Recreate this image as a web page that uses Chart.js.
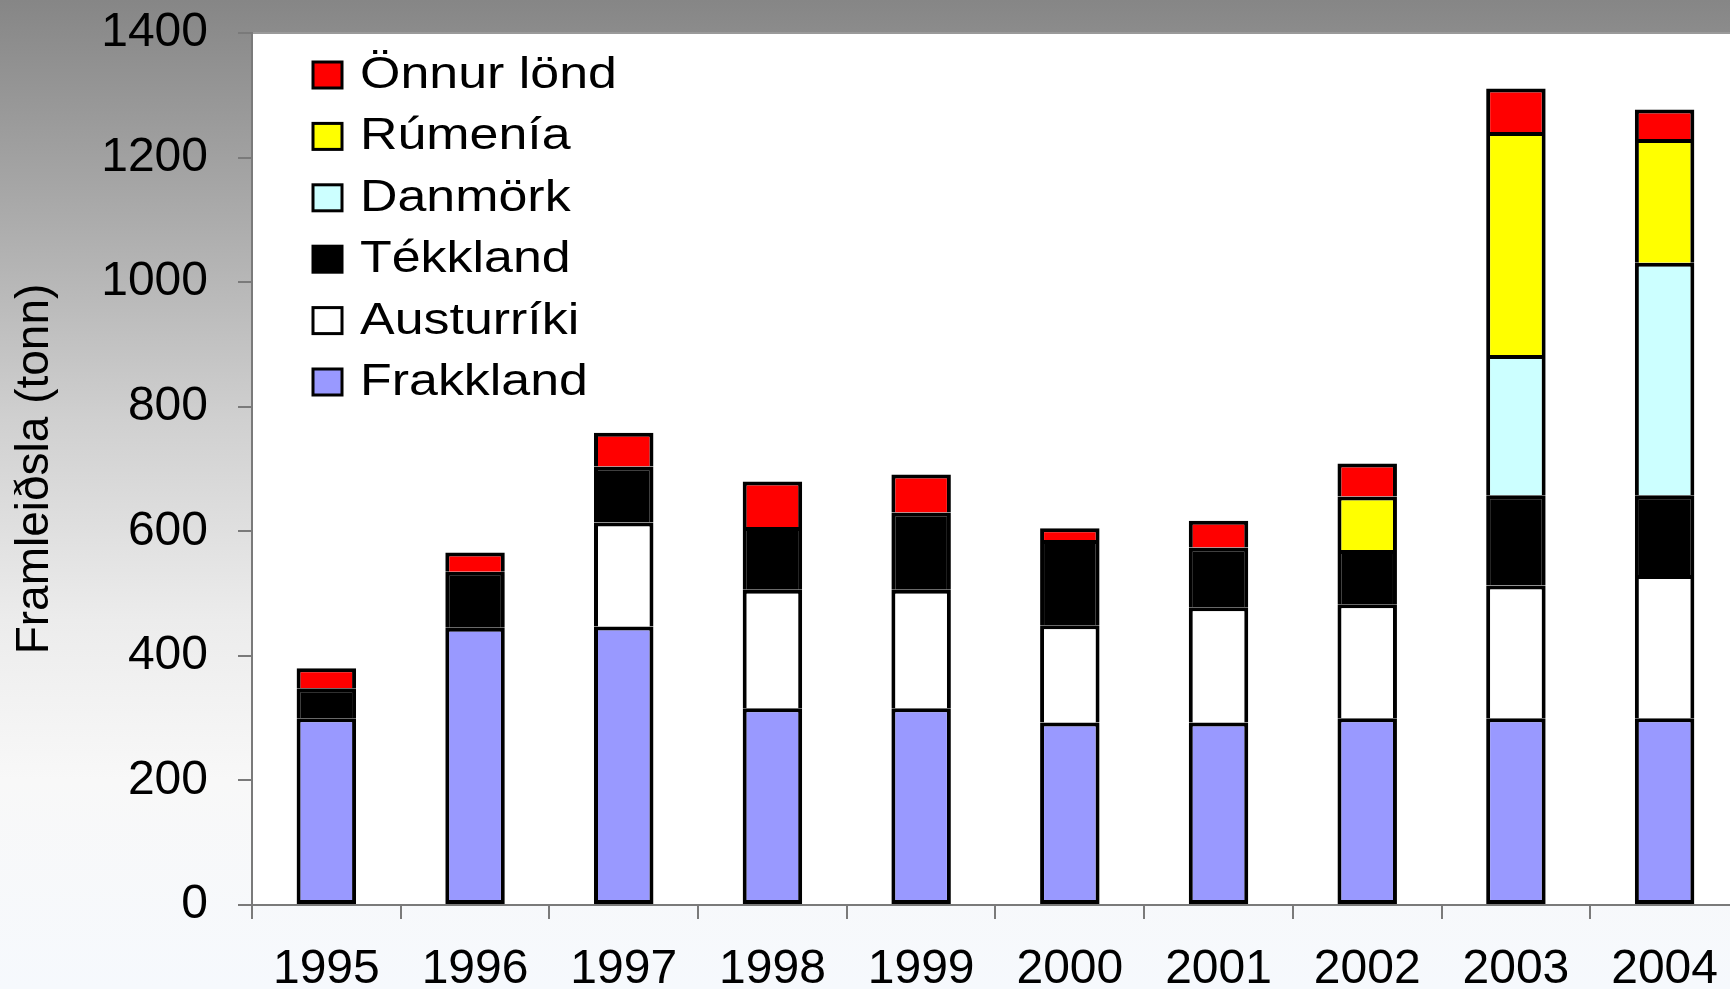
<!DOCTYPE html>
<html>
<head>
<meta charset="utf-8">
<title>Framleiðsla</title>
<script src="https://cdn.jsdelivr.net/npm/chart.js@4.4.1/dist/chart.umd.min.js"></script>
<style>
    html, body {
        margin: 0;
        padding: 0;
        width: 1730px;
        height: 989px;
        overflow: hidden;
    }
    body {
        background: linear-gradient(to bottom, #868686 0px, #a8a8a8 200px, #d0d0d0 420px, #ececec 620px, #f8f8f8 780px, #f6f9fd 989px);
    }
    #wrap {
        position: absolute;
        left: 0;
        top: 0;
        width: 1740px;
        height: 989px;
    }
</style>
</head>
<body>
<div id="wrap"><canvas id="prodChart"></canvas></div>
<script>
// years on the x axis
const years = ['1995', '1996', '1997', '1998', '1999', '2000', '2001', '2002', '2003', '2004'];

// production per country, tonnes (null = nothing that year)
const frakkland  = [300, 445, 447, 316, 316, 293, 293, 300, 300, 300];
const austurriki = [null, null, 167, 190, 190, 156, 185, 183, 213, 230];
const tekkland   = [48, 90, 90, 101, 124, 137, 96, 87, 145, 128];
const danmork    = [null, null, null, null, null, null, null, null, 225, 373];
const rumenia    = [null, null, null, null, null, null, null, 86, 358, 199];
const onnurLond  = [32, 31, 54, 73, 61, 19, 43, 53, 70, 47];

const yTicks = [0, 200, 400, 600, 800, 1000, 1200, 1400];

Chart.defaults.font.family = "'Liberation Sans', Arial, sans-serif";
Chart.defaults.color = '#000';

// white plot area over the grey page background
const plotBackground = {
    id: 'plotBackground',
    beforeDraw(chart) {
        const area = chart.chartArea;
        const ctx = chart.ctx;
        ctx.save();
        ctx.fillStyle = '#ffffff';
        ctx.fillRect(area.left, area.top, area.right - area.left, area.bottom - area.top);
        ctx.strokeStyle = '#9a9a9a';
        ctx.lineWidth = 2;
        ctx.beginPath();
        ctx.moveTo(area.left, area.top);
        ctx.lineTo(area.right, area.top);
        ctx.stroke();
        ctx.restore();
    }
};

// legend sits inside the plot, top series first
const insideLegend = {
    id: 'insideLegend',
    afterDraw(chart) {
        const ctx = chart.ctx;
        const items = chart.data.datasets.slice().reverse();
        ctx.save();
        ctx.font = "44px 'Liberation Sans', Arial, sans-serif";
        ctx.textBaseline = 'alphabetic';
        items.forEach(function(ds, i) {
            const cy = 75 + i * 61.4;
            ctx.fillStyle = ds.backgroundColor;
            ctx.fillRect(313, cy - 13, 29, 26);
            ctx.strokeStyle = '#000';
            ctx.lineWidth = 3;
            ctx.strokeRect(313, cy - 13, 29, 26);
            ctx.save();
            ctx.translate(360, cy + 13);
            ctx.scale(1.18, 1); // text is stretched wide in the original
            ctx.fillStyle = '#000';
            ctx.fillText(ds.label, 0, 0);
            ctx.restore();
        });
        ctx.restore();
    }
};

function barSet(label, data, color) {
    return {
        label: label,
        data: data,
        backgroundColor: color,
        borderColor: '#000',
        borderWidth: 4,
        barPercentage: 0.4,
        categoryPercentage: 1.0
    };
}

const datasets = [
    barSet('Frakkland', frakkland, '#9999ff'),
    barSet('Austurríki', austurriki, '#ffffff'),
    barSet('Tékkland', tekkland, '#000000'),
    barSet('Danmörk', danmork, '#ccffff'),
    barSet('Rúmenía', rumenia, '#ffff00'),
    barSet('Önnur lönd', onnurLond, '#ff0000')
];
datasets[0].borderSkipped = false;

const ctx = document.getElementById('prodChart').getContext('2d');
const prodChart = new Chart(ctx, {
    type: 'bar',
    data: {
        labels: years,
        datasets: datasets
    },
    options: {
        responsive: true,
        maintainAspectRatio: false,
        animation: false,
        layout: {
            padding: { top: 33, right: 0, bottom: 0, left: 0 }
        },
        plugins: {
            legend: { display: false },
            tooltip: { enabled: false }
        },
        scales: {
            x: {
                stacked: true,
                grid: {
                    drawOnChartArea: false,
                    tickLength: 14,
                    color: '#7a7a7a',
                    lineWidth: 2
                },
                border: { color: '#7a7a7a', width: 2 },
                ticks: {
                    font: { size: 48 },
                    padding: 22,
                    maxRotation: 0,
                    autoSkip: false
                },
                afterFit: function(scale) {
                    scale.height = 84;
                }
            },
            y: {
                stacked: true,
                min: 0,
                max: 1400,
                afterBuildTicks: function(scale) {
                    scale.ticks = yTicks.map(v => ({ value: v }));
                },
                grid: {
                    drawOnChartArea: false,
                    tickLength: 14,
                    color: '#7a7a7a',
                    lineWidth: 2
                },
                border: { color: '#7a7a7a', width: 2 },
                ticks: {
                    font: { size: 48 },
                    padding: 30,
                    callback: function(value) {
                        return String(value);
                    }
                },
                title: {
                    display: true,
                    text: 'Framleiðsla (tonn)',
                    font: { size: 46 },
                    padding: { top: 8, bottom: 0 }
                },
                afterFit: function(scale) {
                    scale.width = 252;
                    // the top label may poke above the plot, like the original
                    scale.paddingTop = 0;
                    scale.paddingBottom = 0;
                }
            }
        }
    },
    plugins: [plotBackground, insideLegend]
});
</script>
</body>
</html>
